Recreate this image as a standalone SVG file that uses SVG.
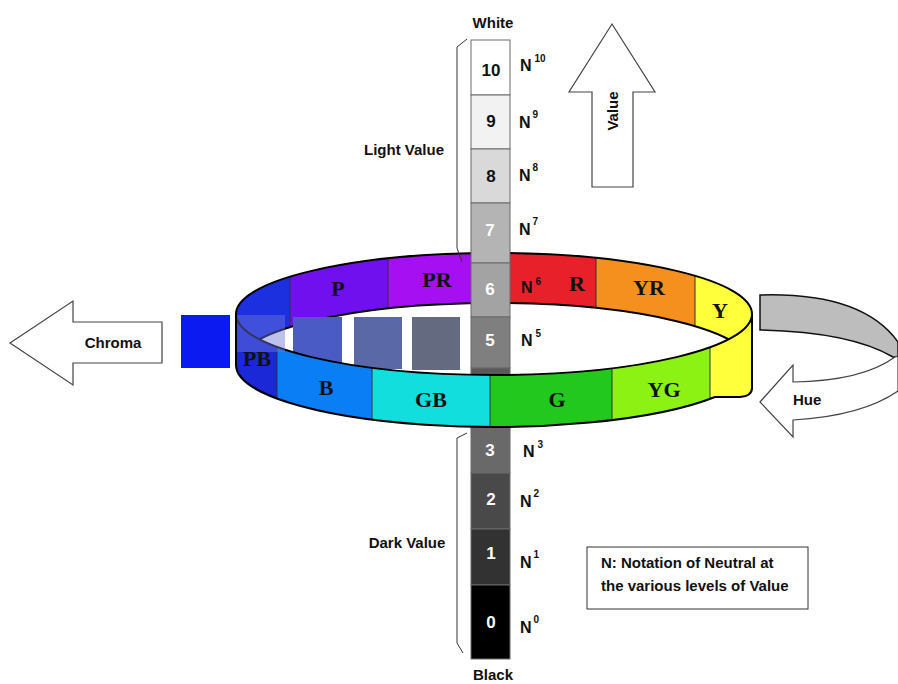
<svg xmlns="http://www.w3.org/2000/svg" width="898" height="684" viewBox="0 0 898 684">
<defs>
<style>
.lbl{font-family:"Liberation Sans",Arial,sans-serif;font-weight:bold;font-size:15px;fill:#111}
.num{font-family:"Liberation Sans",Arial,sans-serif;font-weight:bold;font-size:17px;text-anchor:middle}
.nl{font-family:"Liberation Sans",Arial,sans-serif;font-weight:bold;font-size:16px;fill:#111}
.sup{font-size:10px}
.rl{font-family:"Liberation Serif","Times New Roman",serif;font-weight:bold;font-size:22px;text-anchor:middle;fill:#111}
.cell{stroke:#6a6a6a;stroke-width:1}
.div{stroke:#333;stroke-width:1}
.arrow{fill:#fff;stroke:#444;stroke-width:1.2}
.brace{fill:none;stroke:#333;stroke-width:1}
</style>
<clipPath id="backClip"><path d="M236,314 A258,61 0 0 1 752,314 L752,365 A258,62 0 0 0 236,365 Z"/></clipPath>
<clipPath id="frontClip"><path d="M236,314 A258,61 0 0 0 752,314 L752,388 Q752,396 740,397 L715,397 A258,62 0 0 1 236,365 Z"/></clipPath>
</defs>
<rect width="898" height="684" fill="#fff"/>

<g id="chroma-arrow">
<path class="arrow" d="M10,343 L73,301 L73,322 L162,322 L162,363 L73,363 L73,385 Z"/>
<text class="lbl" x="113" y="348" text-anchor="middle" font-size="16">Chroma</text>
</g>

<g id="value-arrow">
<path class="arrow" d="M612,24 L655,92 L633,92 L633,187 L592,187 L592,92 L569,92 Z"/>
<text class="lbl" transform="translate(618,111) rotate(-90)" text-anchor="middle" font-size="17">Value</text>
</g>

<g id="hue-arrow">
<path d="M760,295 Q862,292 898,342 L898,357 L893,357 Q850,332 760,330 Z" fill="#bdbdbd" stroke="#111" stroke-width="1.5"/>
<path class="arrow" d="M760,402 L793,365 L793,382 Q862,381 895,357 L898,356 L898,391 Q862,416 793,420 L793,437 Z"/>
<text class="lbl" x="793" y="405" font-size="16">Hue</text>
</g>

<g id="ring-back">
<g clip-path="url(#backClip)">
<rect x="230" y="240" width="60" height="140" fill="#1c30e0"/>
<rect x="290" y="240" width="98" height="140" fill="#7010ee"/>
<rect x="388" y="240" width="102" height="140" fill="#a50ff2"/>
<rect x="490" y="240" width="106" height="140" fill="#e8202a"/>
<rect x="596" y="240" width="99" height="140" fill="#f5901e"/>
<rect x="695" y="240" width="70" height="140" fill="#ffff3c"/>
</g>
<line class="div" x1="290" y1="276.7" x2="290" y2="327"/>
<line class="div" x1="388" y1="258.4" x2="388" y2="308.5"/>
<line class="div" x1="596" y1="258" x2="596" y2="308"/>
<line class="div" x1="695" y1="275.8" x2="695" y2="326"/>
<path d="M236,314 A258,61 0 0 1 752,314 M752,365 A258,62 0 0 0 236,365" fill="none" stroke="#000" stroke-width="2"/>
<text class="rl" x="338" y="296">P</text>
<text class="rl" x="437" y="287">PR</text>
<text class="rl" x="577" y="291">R</text>
<text class="rl" x="649" y="295">YR</text>
<text class="rl" x="720" y="318">Y</text>
</g>

<g id="chroma-samples">
<rect x="181" y="315" width="49" height="53" fill="#0a1af0"/>
<rect x="293" y="317" width="49" height="46" fill="#4b5bc6"/>
<rect x="354" y="317" width="48" height="52" fill="#5a68a8"/>
<rect x="412" y="317" width="48" height="53" fill="#646a80"/>
</g>

<g id="value-scale">
<rect class="cell" x="471" y="40" width="39" height="55" fill="#ffffff"/>
<rect class="cell" x="471" y="95" width="39" height="54" fill="#f2f2f2"/>
<rect class="cell" x="471" y="149" width="39" height="54" fill="#d9d9d9"/>
<rect class="cell" x="471" y="203" width="39" height="60" fill="#b4b4b4"/>
<rect class="cell" x="471" y="263" width="39" height="54" fill="#a3a3a3"/>
<rect class="cell" x="471" y="317" width="39" height="51" fill="#7f7f7f"/>
<rect class="cell" x="471" y="368" width="39" height="60" fill="#595959"/>
<rect class="cell" x="471" y="428" width="39" height="45" fill="#696969"/>
<rect class="cell" x="471" y="473" width="39" height="56" fill="#494949"/>
<rect class="cell" x="471" y="529" width="39" height="56" fill="#323232"/>
<rect class="cell" x="471" y="585" width="39" height="74" fill="#000000"/>
<text class="num" x="491" y="76" fill="#111">10</text>
<text class="num" x="491" y="127" fill="#111">9</text>
<text class="num" x="491" y="182" fill="#111">8</text>
<text class="num" x="490" y="236" fill="#fff">7</text>
<text class="num" x="490" y="295" fill="#fff">6</text>
<text class="num" x="490" y="346" fill="#fff">5</text>
<text class="num" x="490" y="456" fill="#fff">3</text>
<text class="num" x="491" y="505" fill="#fff">2</text>
<text class="num" x="491" y="559" fill="#fff">1</text>
<text class="num" x="491" y="628" fill="#fff">0</text>
</g>

<g id="ring-front">
<g clip-path="url(#frontClip)">
<rect x="230" y="300" width="47" height="140" fill="#1a28d8"/>
<rect x="277" y="300" width="95" height="140" fill="#0a7ef5"/>
<rect x="372" y="300" width="118" height="140" fill="#12dede"/>
<rect x="490" y="300" width="122" height="140" fill="#22c81e"/>
<rect x="612" y="300" width="98" height="140" fill="#8cf214"/>
<rect x="710" y="300" width="50" height="140" fill="#ffff3c"/>
</g>
<line class="div" x1="277" y1="347" x2="277" y2="398.5"/>
<line class="div" x1="372" y1="367.7" x2="372" y2="419.6"/>
<line class="div" x1="490" y1="375" x2="490" y2="427"/>
<line class="div" x1="612" y1="368.3" x2="612" y2="420"/>
<line class="div" x1="710" y1="347.4" x2="710" y2="398.9"/>
<path d="M236,314 A258,61 0 0 0 752,314 L752,388 Q752,396 740,397 L715,397 A258,62 0 0 1 236,365 Z" fill="none" stroke="#000" stroke-width="2" stroke-linejoin="round"/>
<text class="rl" x="257" y="366">PB</text>
<text class="rl" x="326" y="395">B</text>
<text class="rl" x="431" y="407">GB</text>
<text class="rl" x="557" y="407">G</text>
<text class="rl" x="664" y="397">YG</text>
</g>

<g id="chroma-overlay">
<rect x="237" y="315" width="48" height="37" fill="#6c78d8" opacity="0.45"/>
</g>

<g id="neutral-notation">
<text class="nl" x="520" y="71">N<tspan class="sup" dx="3" dy="-9">10</tspan></text>
<text class="nl" x="519" y="128">N<tspan class="sup" dx="2" dy="-10">9</tspan></text>
<text class="nl" x="519" y="181">N<tspan class="sup" dx="2" dy="-10">8</tspan></text>
<text class="nl" x="519" y="235">N<tspan class="sup" dx="2" dy="-10">7</tspan></text>
<text class="nl" x="521" y="293" fill="#222">N<tspan class="sup" dx="3" dy="-8">6</tspan></text>
<text class="nl" x="521" y="346">N<tspan class="sup" dx="3" dy="-9">5</tspan></text>
<text class="nl" x="523" y="457">N<tspan class="sup" dx="3" dy="-9">3</tspan></text>
<text class="nl" x="520" y="507">N<tspan class="sup" dx="2" dy="-10">2</tspan></text>
<text class="nl" x="520" y="568">N<tspan class="sup" dx="2" dy="-10">1</tspan></text>
<text class="nl" x="520" y="633">N<tspan class="sup" dx="2" dy="-10">0</tspan></text>
</g>

<g id="value-ranges">
<path class="brace" d="M467,39 L457,47 L457,248 L462,262"/>
<path class="brace" d="M467,433 L457,438 L457,643 L463,653"/>
<text class="lbl" x="404" y="155" text-anchor="middle">Light Value</text>
<text class="lbl" x="407" y="548" text-anchor="middle">Dark Value</text>
<text class="lbl" x="493" y="28" text-anchor="middle">White</text>
<text class="lbl" x="493" y="680" text-anchor="middle">Black</text>
</g>

<g id="legend">
<rect x="587" y="547" width="221" height="62" fill="#fff" stroke="#333" stroke-width="1"/>
<text class="lbl" x="601" y="568" font-size="15.5">N: Notation of Neutral at</text>
<text class="lbl" x="601" y="591" font-size="15.5">the various levels of Value</text>
</g>
</svg>
